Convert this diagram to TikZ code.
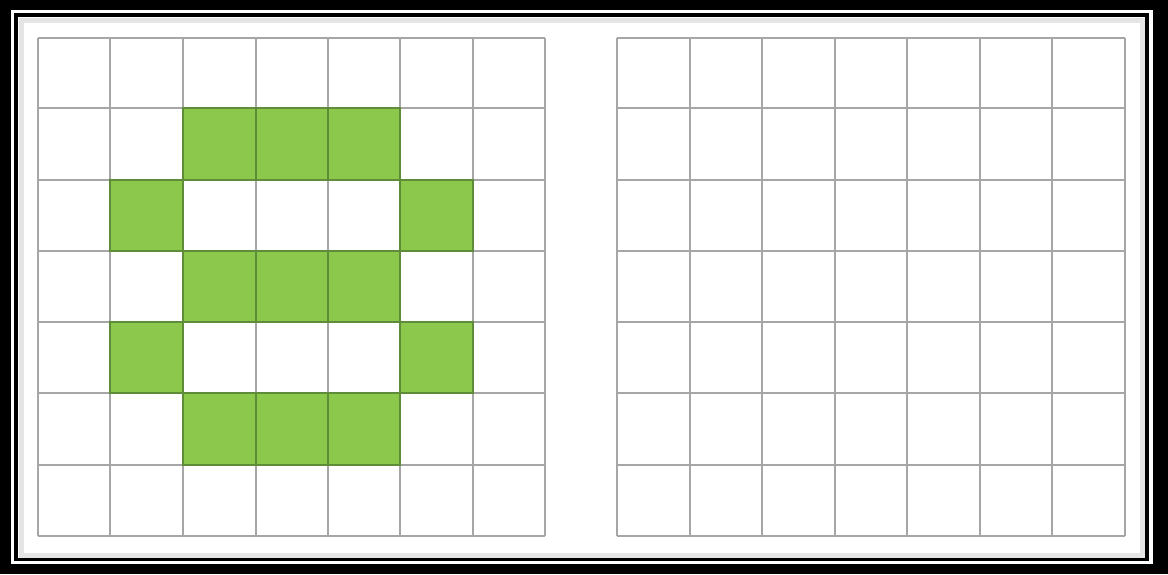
\documentclass[tikz,border=0pt]{standalone}
\definecolor{cellgreen}{HTML}{8CC84B}
\definecolor{gridgray}{HTML}{A6A6A6}
\definecolor{greenline}{HTML}{5E8C38}
\tikzset{
  gridline/.style={draw=gridgray, line width=2.4pt},
  greencell/.style={fill=cellgreen},
  greenedge/.style={draw=greenline, line width=2.2pt},
}
\begin{document}
\begin{tikzpicture}[x=1pt,y=-1pt]
\useasboundingbox (0,0) rectangle (1168,574);
% frame
\fill[black] (0,0) rectangle (1168,574);
\fill[white] (11,10) rectangle (1153,564);
\fill[black] (14,13) rectangle (1149,561);
\fill[white] (18,17) rectangle (1145,558);
\draw[black!10, line width=5pt] (21,20) rectangle (1142,555);
\def\xs{{38,110,183,256,328,400,473,545}}
\def\ys{{38,108,180,251,322,393,465,536}}
% left grid lines
\foreach \i in {0,...,7}{
  \pgfmathsetmacro{\xx}{\xs[\i]}
  \pgfmathsetmacro{\yy}{\ys[\i]}
  \draw[gridline] (\xx,38) -- (\xx,536);
  \draw[gridline] (38,\yy) -- (545,\yy);
}
% left grid green cells
\foreach \r/\c in {1/2,1/3,1/4,2/1,2/5,3/2,3/3,3/4,4/1,4/5,5/2,5/3,5/4}{
  \pgfmathsetmacro{\xa}{\xs[\c]}
  \pgfmathsetmacro{\xb}{\xs[\c+1]}
  \pgfmathsetmacro{\ya}{\ys[\r]}
  \pgfmathsetmacro{\yb}{\ys[\r+1]}
  \fill[greencell] (\xa,\ya) rectangle (\xb,\yb);
  \draw[greenedge] (\xa,\ya) rectangle (\xb,\yb);
}
% right grid lines
\def\xr{{617,690,762,835,907,980,1052,1125}}
\foreach \i in {0,...,7}{
  \pgfmathsetmacro{\xx}{\xr[\i]}
  \pgfmathsetmacro{\yy}{\ys[\i]}
  \draw[gridline] (\xx,38) -- (\xx,536);
  \draw[gridline] (617,\yy) -- (1125,\yy);
}
\end{tikzpicture}
\end{document}
